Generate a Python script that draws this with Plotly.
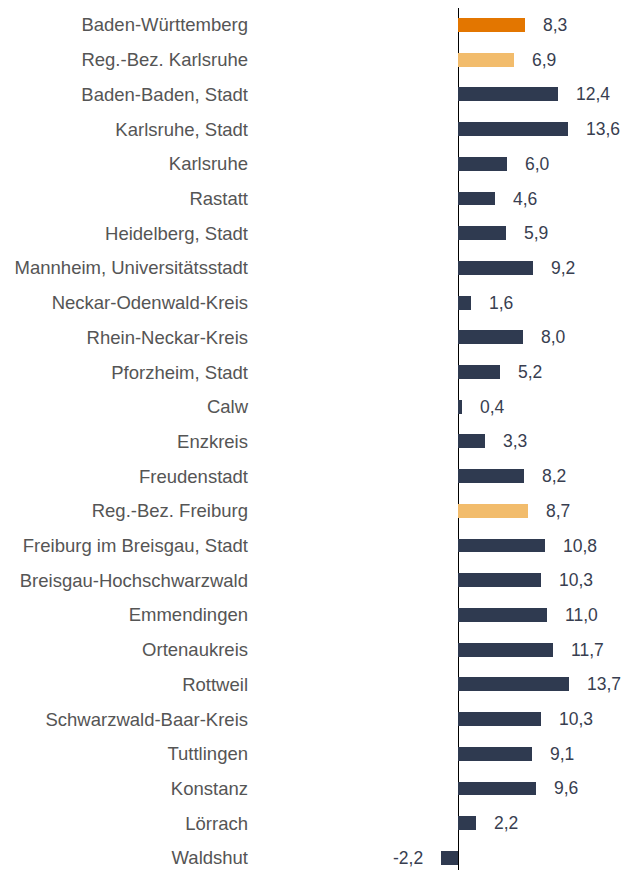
import plotly.graph_objects as go

# Regions and districts, top to bottom
regions = [
    "Baden-Württemberg", "Reg.-Bez. Karlsruhe", "Baden-Baden, Stadt", "Karlsruhe, Stadt",
    "Karlsruhe", "Rastatt", "Heidelberg, Stadt", "Mannheim, Universitätsstadt",
    "Neckar-Odenwald-Kreis", "Rhein-Neckar-Kreis", "Pforzheim, Stadt", "Calw",
    "Enzkreis", "Freudenstadt", "Reg.-Bez. Freiburg", "Freiburg im Breisgau, Stadt",
    "Breisgau-Hochschwarzwald", "Emmendingen", "Ortenaukreis", "Rottweil",
    "Schwarzwald-Baar-Kreis", "Tuttlingen", "Konstanz", "Lörrach", "Waldshut",
]
values = [
    8.3, 6.9, 12.4, 13.6, 6.0, 4.6, 5.9, 9.2, 1.6, 8.0, 5.2, 0.4, 3.3, 8.2,
    8.7, 10.8, 10.3, 11.0, 11.7, 13.7, 10.3, 9.1, 9.6, 2.2, -2.2,
]
# Level of each entry: state, administrative region or district
levels = [
    "land", "bezirk", "kreis", "kreis", "kreis", "kreis", "kreis", "kreis", "kreis",
    "kreis", "kreis", "kreis", "kreis", "kreis", "bezirk", "kreis", "kreis", "kreis",
    "kreis", "kreis", "kreis", "kreis", "kreis", "kreis", "kreis",
]

level_colors = {"land": "#E37600", "bezirk": "#F2BC6C", "kreis": "#2F3A50"}
bar_colors = [level_colors[l] for l in levels]

fig = go.Figure(
    go.Bar(
        x=values,
        y=regions,
        orientation="h",
        marker=dict(color=bar_colors, line=dict(width=0)),
        width=0.40,
        hoverinfo="x+y",
    )
)

# Value labels in German number format, placed beside each bar end
for name, v in zip(regions, values):
    fig.add_annotation(
        x=v,
        y=name,
        text=f"{v:.1f}".replace(".", ","),
        showarrow=False,
        xanchor="left" if v >= 0 else "right",
        xshift=16 if v >= 0 else -16,
        font=dict(family="Liberation Sans, Arial, sans-serif", size=17.5, color="#383E50"),
    )

fig.update_layout(
    width=622,
    height=870,
    margin=dict(l=253, r=0, t=8, b=0),
    paper_bgcolor="white",
    plot_bgcolor="white",
    showlegend=False,
    bargap=0,
    font=dict(family="Liberation Sans, Arial, sans-serif", size=18.5, color="#555555"),
)
fig.update_xaxes(
    range=[-25.44, 20.29],
    showgrid=False,
    showticklabels=False,
    ticks="",
    zeroline=True,
    zerolinecolor="#000000",
    zerolinewidth=1.3,
    fixedrange=True,
)
fig.update_yaxes(
    type="category",
    range=[24.35, -0.49],
    showgrid=False,
    ticks="",
    ticklabelstandoff=4,
    tickfont=dict(size=18.5, color="#555555"),
    fixedrange=True,
)

fig.write_html("out.html")
